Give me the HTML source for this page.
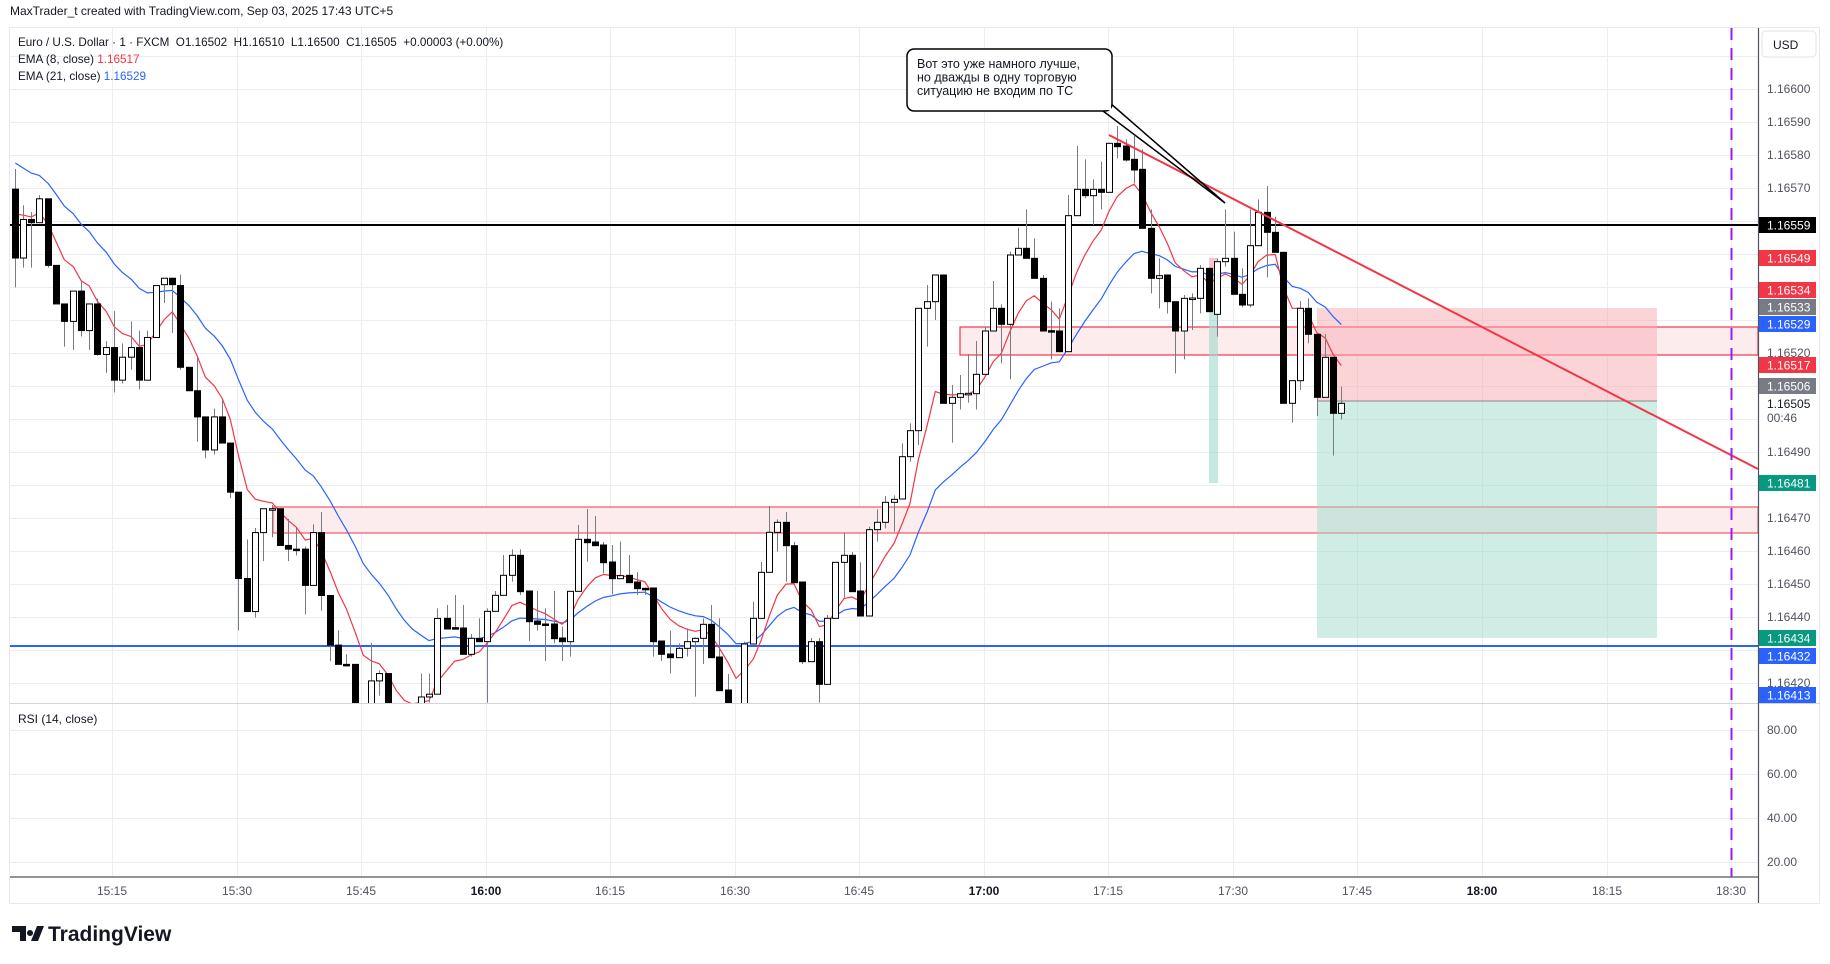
<!DOCTYPE html>
<html><head><meta charset="utf-8">
<style>
html,body{margin:0;padding:0;background:#fff;width:1830px;height:964px;overflow:hidden;font-family:"Liberation Sans","DejaVu Sans",sans-serif;}
svg text{font-family:"Liberation Sans","DejaVu Sans",sans-serif;}
</style></head>
<body>
<svg id="s" width="1830" height="964" xmlns="http://www.w3.org/2000/svg">
<rect x="0" y="0" width="1830" height="964" fill="#fff"/>
<text x="10" y="15" font-size="12" fill="#131722">MaxTrader_t created with TradingView.com, Sep 03, 2025 17:43 UTC+5</text>
<rect x="9.5" y="27.5" width="1810" height="876" fill="#fff" stroke="#e8e9ec"/>
<g id="grid" stroke="#e9eef3" stroke-width="1"></g>
<g id="zones"></g>
<g id="cl"></g>
<g id="over"></g>
<g id="axis"></g>
</svg>
<script>
const NS="http://www.w3.org/2000/svg";
function el(tag,attrs,parent,text){const e=document.createElementNS(NS,tag);for(const k in attrs)e.setAttribute(k,attrs[k]);if(text!==undefined)e.textContent=text;(parent||document.getElementById('s')).appendChild(e);return e;}
const grid=document.getElementById('grid'),zones=document.getElementById('zones'),cl=document.getElementById('cl'),over=document.getElementById('over'),axis=document.getElementById('axis');
const AX=1758;
for(let y=23+33;y<703;y+=33){el('line',{x1:10,x2:AX,y1:y+0.5,y2:y+0.5},grid);}
[730,774,818,862].forEach(y=>el('line',{x1:10,x2:AX,y1:y+0.5,y2:y+0.5},grid));
const times=[[112,'15:15'],[237,'15:30'],[361,'15:45'],[486,'16:00',1],[610,'16:15'],[735,'16:30'],[859,'16:45'],[984,'17:00',1],[1108,'17:15'],[1233,'17:30'],[1357,'17:45'],[1482,'18:00',1],[1607,'18:15'],[1731,'18:30']];
times.forEach(t=>{el('line',{x1:t[0]+0.5,x2:t[0]+0.5,y1:28,y2:877},grid);});
el('rect',{x:273,y:507,width:AX-273,height:26,fill:'#fdecee',stroke:'#f23645','stroke-width':1},zones);
el('rect',{x:960,y:327,width:AX-960,height:28,fill:'#fdecee',stroke:'#f23645','stroke-width':1.2},zones);
el('rect',{x:1317,y:308,width:340,height:93,fill:'#f7a9b2','fill-opacity':0.5},zones);
el('rect',{x:1317,y:401,width:340,height:237,fill:'#9fd9cc','fill-opacity':0.5},zones);
el('line',{x1:1317,x2:1657,y1:401,y2:401,stroke:'#888','stroke-width':1},zones);
el('rect',{x:1209,y:258,width:9,height:53,fill:'#f7a9b2','fill-opacity':0.7},zones);
el('rect',{x:1209,y:311,width:9,height:172,fill:'#9fd9cc','fill-opacity':0.6},zones);
el('line',{x1:10,x2:AX,y1:225,y2:225,stroke:'#000','stroke-width':2},zones);
el('line',{x1:10,x2:AX,y1:646,y2:646,stroke:'#2962ff','stroke-width':2},zones);
const A=[[46,412,562,'b',368,626],[70,478,562,'w',447,583],[94,478,485,'b',462,583],[118,433,485,'w',425,485],[145,433,578,'b',433,583],[169,578,662,'b',578,662],[193,662,700,'b',662,755],[220,634,700,'w',634,762],[244,634,720,'b',612,733],[268,662,720,'w',662,762],[292,662,772,'b',650,775],[319,757,772,'w',743,812],[343,757,828,'b',677,855],[367,778,828,'w',748,835],[394,757,778,'w',700,805],[418,757,828,'b',720,848],[442,735,828,'w',720,828],[469,622,735,'w',622,735],[493,606,620,'w',606,660],[517,606,620,'b',606,725],[541,622,800,'b',598,805],[568,800,851,'b',800,851],[592,851,908,'b',778,962],[616,908,980,'b',908,998],[643,908,980,'w',890,990],[667,908,965,'b',870,965],[691,965,1072,'b',965,1085],[715,1072,1260,'b',1072,1373],[742,1260,1332,'b',1175,1332],[766,1160,1332,'w',1150,1345],[790,1108,1160,'w',1108,1222],[817,1108,1110,'w',1100,1170],[841,1108,1188,'b',1108,1188],[865,1188,1196,'b',1130,1222],[889,1196,1198,'b',1150,1210],[916,1196,1275,'b',1190,1338],[940,1160,1275,'w',1142,1275],[964,1160,1297,'b',1115,1330],[991,1297,1405,'b',1297,1440],[1015,1405,1447,'b',1373,1447],[1039,1447,1449,'b',1425,1452],[1066,1447,1560,'b',1447,1570],[1090,1540,1600,'b',1540,1620],[1114,1483,1540,'w',1400,1560],[1138,1467,1483,'w',1460,1515],[1165,1467,1560,'b',1467,1580],[1189,1560,1620,'b',1560,1640],[1213,1600,1640,'w',1590,1650],[1237,1560,1600,'w',1550,1620],[1263,1518,1540,'w',1467,1560],[1287,1512,1518,'w',1467,1530],[1311,1347,1512,'w',1325,1512]];
const B=[[20,415,447,'b',375,447],[44,443,445,'b',345,445],[68,444,523,'b',375,523],[94,475,523,'w',462,530],[118,475,485,'b',415,485],[142,394,485,'w',385,668],[166,346,394,'w',333,394],[190,286,346,'w',225,346],[216,226,286,'w',208,305],[240,226,335,'b',208,345],[268,333,425,'b',333,483],[292,423,433,'b',333,452],[316,432,434,'b',385,543],[342,432,476,'b',333,490],[366,474,485,'b',440,543],[390,334,485,'w',334,530],[414,178,334,'w',135,334],[440,178,188,'b',87,245],[466,186,197,'b',108,197],[490,195,248,'b',186,280],[516,246,296,'b',195,343],[540,287,296,'w',185,296],[566,286,308,'b',225,308],[590,306,326,'b',276,345],[614,325,327,'b',322,345],[640,324,485,'b',324,530],[664,483,523,'b',483,543],[690,522,533,'b',452,580],[716,505,533,'w',490,533],[740,485,505,'w',445,530],[766,475,485,'w',472,650],[790,433,475,'w',415,552],[814,433,533,'b',375,533],[838,531,632,'b',415,632],[864,630,700,'b',582,720],[888,690,760,'b',680,780],[912,492,740,'w',485,760],[940,415,492,'w',365,492],[964,277,415,'w',246,415],[988,157,277,'w',78,277],[1012,127,157,'w',118,215],[1038,127,197,'b',96,305],[1062,197,308,'b',186,308],[1086,306,545,'b',306,552],[1114,485,545,'w',474,545],[1138,485,613,'b',474,668],[1162,415,613,'w',405,613],[1186,247,415,'w',247,415],[1212,226,247,'w',157,353],[1236,226,335,'b',216,335],[1260,333,408,'b',247,408],[1286,149,408,'w',140,408],[1310,127,149,'w',88,185],[1336,67,127,'w',48,145],[1362,58,67,'w',46,155]];
const C=[[126,1040,1167,'w',1000,1167],[150,962,1040,'w',940,1055],[175,595,962,'w',595,1005],[202,575,595,'w',525,710],[226,495,575,'w',495,630],[250,495,880,'b',495,880],[277,862,880,'w',825,998],[301,851,862,'w',795,898],[325,850,852,'w',732,878],[349,793,851,'w',693,898],[375,663,793,'w',650,793],[400,595,663,'w',513,663],[424,595,643,'b',583,760],[450,435,643,'w',425,808],[475,415,435,'w',353,435],[499,415,445,'b',298,445],[523,445,505,'b',385,505],[550,505,663,'b',495,663],[574,662,664,'b',575,748],[598,663,725,'b',595,725],[624,317,725,'w',255,725],[650,238,317,'w',108,317],[674,238,257,'b',148,265],[700,238,257,'w',208,345],[724,238,247,'b',155,298],[748,100,247,'w',100,247],[772,100,110,'b',48,145],[798,108,150,'b',88,155],[822,148,180,'b',78,220],[846,178,355,'b',118,355],[873,355,505,'b',298,550],[898,497,505,'w',445,595],[922,495,575,'b',495,610],[946,575,663,'b',575,790],[972,565,663,'w',555,748],[996,564,566,'w',550,660],[1021,475,565,'w',465,610],[1047,475,605,'b',475,605],[1072,455,613,'w',445,680],[1096,445,455,'w',298,470],[1122,445,553,'b',365,553],[1146,553,585,'b',475,592],[1170,407,585,'w',298,592],[1194,307,407,'w',268,407],[1220,307,367,'b',228,502],[1246,367,427,'b',320,427],[1270,427,880,'b',427,880],[1297,812,880,'w',812,938],[1321,595,812,'w',573,840],[1345,595,673,'b',565,700],[1370,673,862,'b',673,918],[1396,742,862,'w',672,862],[1420,742,910,'b',742,1037],[1444,880,910,'w',830,928]];
const K=[];
A.forEach(d=>K.push({x:d[0]/3,t:d[1]/2.178,b:d[2]/2.178,c:d[3],h:d[4]/2.178,l:d[5]/2.178}));
B.forEach(d=>K.push({x:440+d[0]/3,t:480+d[1]/3,b:480+d[2]/3,c:d[3],h:480+d[4]/3,l:480+d[5]/3}));
C.forEach(d=>K.push({x:860+d[0]/3,t:110+d[1]/3,b:110+d[2]/3,c:d[3],h:110+d[4]/3,l:110+d[5]/3}));
el('clipPath',{id:'cp'},document.getElementById('s')).appendChild((()=>{const r=document.createElementNS(NS,'rect');r.setAttribute('x',10);r.setAttribute('y',28);r.setAttribute('width',AX-10);r.setAttribute('height',675);return r;})());
const cg=el('g',{'clip-path':'url(#cp)'},cl);
let e8=214,e21=163;const p8=[],p21=[];
K.forEach((k,i)=>{const close=k.c==='w'?k.t:k.b; if(i>0){e8=e8+(close-e8)*2/9;e21=e21+(close-e21)*2/22;} p8.push([k.x,e8]);p21.push([k.x,e21]);});
const pts=a=>a.map(p=>p[0].toFixed(1)+','+p[1].toFixed(1)).join(' ');
el('polyline',{points:pts(p21),fill:'none',stroke:'#2962ff','stroke-width':1.2},cg);
el('polyline',{points:pts(p8),fill:'none',stroke:'#f23645','stroke-width':1.2},cg);
K.forEach(k=>{
 const x=Math.round(k.x);
 el('line',{x1:x+0.5,x2:x+0.5,y1:k.h,y2:k.l,stroke:'#787b86','stroke-width':1},cg);
 let h=Math.max(k.b-k.t,1.5);
 el('rect',{x:x-2.5,y:k.t,width:6,height:h,fill:k.c==='w'?'#fff':'#000',stroke:'#000','stroke-width':1},cg);
});
el('line',{x1:1109,y1:135,x2:AX,y2:469,stroke:'#f23645','stroke-width':2},over);
el('line',{x1:1110,y1:103,x2:1225,y2:203,stroke:'#000','stroke-width':1.5},over);
el('line',{x1:1103,y1:111,x2:1225,y2:203,stroke:'#000','stroke-width':1.5},over);
el('rect',{x:907,y:49,width:205,height:62,rx:7,fill:'#fff',stroke:'#000','stroke-width':1.5},over);
el('rect',{x:1100,y:104,width:11,height:6,fill:'#fff'},over);
['Вот это уже намного лучше,','но дважды в одну торговую','ситуацию не входим по ТС'].forEach((t,i)=>el('text',{x:917,y:68+i*13.5,'font-size':12.5,fill:'#131722','font-family':'"Liberation Sans","DejaVu Sans",sans-serif'},over,t));
el('line',{x1:1731.5,x2:1731.5,y1:28,y2:877,stroke:'#9c1cf0','stroke-width':2,'stroke-dasharray':'12 8'},over);
const lg=el('text',{x:18,y:46,'font-size':11.7,fill:'#131722'},over);
lg.textContent='Euro / U.S. Dollar · 1 · FXCM  O1.16502  H1.16510  L1.16500  C1.16505  +0.00003 (+0.00%)';
lg.setAttribute('xml:space','preserve');lg.style.whiteSpace='pre';
const l2=el('text',{x:18,y:63,'font-size':11.7,fill:'#131722'},over,'EMA (8, close) ');el('tspan',{fill:'#f23645'},l2,'1.16517');
const l3=el('text',{x:18,y:80,'font-size':11.7,fill:'#131722'},over,'EMA (21, close) ');el('tspan',{fill:'#2962ff'},l3,'1.16529');
el('text',{x:18,y:723,'font-size':12,fill:'#131722'},over,'RSI (14, close)');
el('line',{x1:10,x2:1820,y1:703.5,y2:703.5,stroke:'#d1d4dc'},axis);
el('line',{x1:10,x2:AX,y1:877,y2:877,stroke:'#50535e','stroke-width':1.2},axis);
el('line',{x1:AX+0.5,x2:AX+0.5,y1:28,y2:903,stroke:'#50535e','stroke-width':1.2},axis);
el('rect',{x:1762,y:31,width:54,height:26,rx:4,fill:'#fff',stroke:'#e0e3eb'},axis);
el('text',{x:1773,y:49,'font-size':12,fill:'#131722'},axis,'USD');
[[89,'1.16600'],[122,'1.16590'],[155,'1.16580'],[188,'1.16570'],[353,'1.16520'],[452,'1.16490'],[518,'1.16470'],[551,'1.16460'],[584,'1.16450'],[617,'1.16440'],[683,'1.16420'],[730,'80.00'],[774,'60.00'],[818,'40.00'],[862,'20.00']].forEach(t=>el('text',{x:1767,y:t[0]+4,'font-size':12,fill:'#50535e'},axis,t[1]));
[[225,'1.16559','#000'],[258,'1.16549','#f23645'],[290,'1.16534','#f23645'],[307,'1.16533','#787b86'],[324,'1.16529','#2962ff'],[365,'1.16517','#f23645'],[386,'1.16506','#787b86'],[483,'1.16481','#089981'],[638,'1.16434','#089981'],[656,'1.16432','#2962ff'],[695,'1.16413','#2962ff']].forEach(t=>{el('rect',{x:1759,y:t[0]-8,width:57,height:16,fill:t[2]},axis);el('text',{x:1767,y:t[0]+4.5,'font-size':12,fill:'#fff'},axis,t[1]);});
el('text',{x:1767,y:408,'font-size':12,fill:'#131722'},axis,'1.16505');
el('text',{x:1767,y:422,'font-size':12,fill:'#50535e'},axis,'00:46');
times.forEach(t=>el('text',{x:t[0],y:895,'font-size':12,fill:t[2]?'#131722':'#50535e','font-weight':t[2]?'bold':'normal','text-anchor':'middle'},axis,t[1]));
el('path',{d:'M12 926h14v15h-6v-9h-8z M30 930a3 3 0 1 0 0.01 0z M37 926h7l-6 15h-7z',fill:'#131722'},axis);
el('text',{x:48,y:941,'font-size':21,'font-weight':'bold',fill:'#131722'},axis,'TradingView');
</script>
</body></html>
